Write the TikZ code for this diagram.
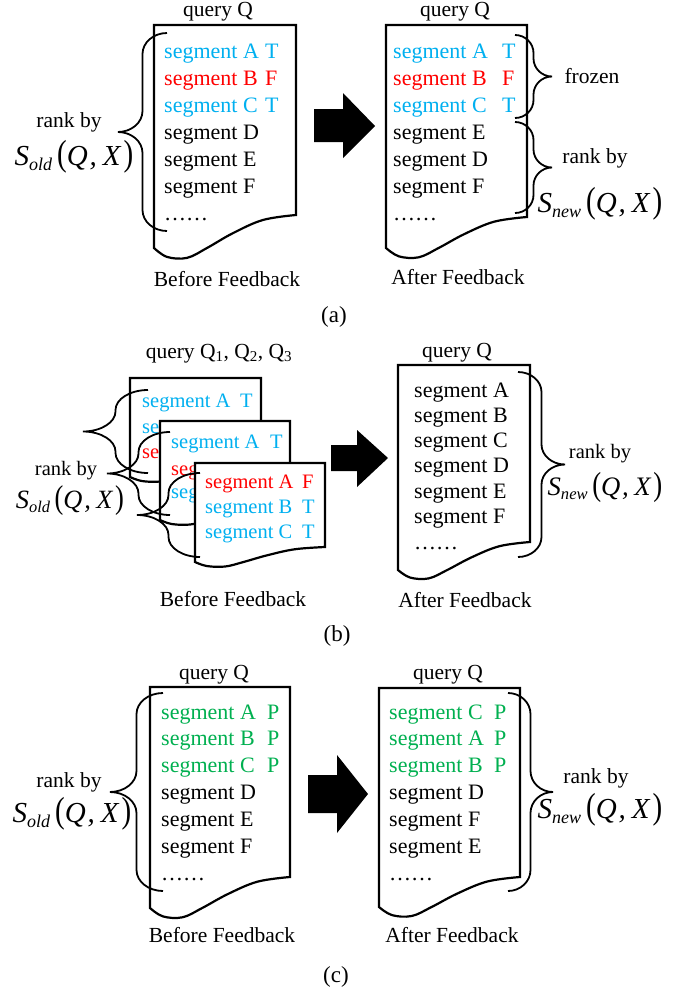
\documentclass[tikz,border=0pt]{standalone}
\usepackage{fontspec}
\setmainfont{Liberation Serif}
\usepackage{graphicx}
\definecolor{segblue}{HTML}{00B0F0}
\definecolor{segred}{HTML}{FF0000}
\definecolor{seggreen}{HTML}{00B050}
\tikzset{
  doc/.style={draw=black, fill=white, line width=2.2pt, line join=miter},
  bracestyle/.style={draw=black, line width=1.8pt},
  seg/.style={anchor=base west, inner sep=0pt, font=\fontsize{22}{24}\selectfont},
  segs/.style={anchor=base west, inner sep=0pt, font=\fontsize{20.5}{24}\selectfont},
  lbl/.style={anchor=base, inner sep=0pt, font=\fontsize{21.5}{24}\selectfont},
  lbls/.style={anchor=base, inner sep=0pt, font=\fontsize{20.5}{24}\selectfont},
  sfn/.style={anchor=base, inner sep=0pt},
  bigarrow/.style={fill=black},
}
% document shape: L T R RB LB
\newcommand{\docshape}[5]{%
  \path[doc] plot[smooth, tension=0.6] coordinates {(#3,#4)
    ({#1+0.768*(#3-#1)},{#4+0.15*(#5-#4)})
    ({#1+0.556*(#3-#1)},{#4+0.55*(#5-#4)})
    ({#1+0.373*(#3-#1)},{#4+1.0*(#5-#4)})
    ({#1+0.232*(#3-#1)},{#4+1.3*(#5-#4)})
    ({#1+0.092*(#3-#1)},{#4+1.27*(#5-#4)})
    (#1,#5)} -- (#1,#2) -- (#3,#2) -- cycle;}
% brace: ends x, tip x, y1, y2, curl
\newcommand{\mybrace}[5]{%
  \draw[bracestyle] (#1,#3)
    .. controls ({#1-0.275*(#1-#2)},#3) and ({(#1+#2)/2},{#3+0.45*#5}) .. ({(#1+#2)/2},{#3+#5})
    -- ({(#1+#2)/2},{(#3+#4)/2-#5})
    .. controls ({(#1+#2)/2},{(#3+#4)/2-0.45*#5}) and ({#2+0.275*(#1-#2)},{(#3+#4)/2}) .. (#2,{(#3+#4)/2})
    .. controls ({#2+0.275*(#1-#2)},{(#3+#4)/2}) and ({(#1+#2)/2},{(#3+#4)/2+0.45*#5}) .. ({(#1+#2)/2},{(#3+#4)/2+#5})
    -- ({(#1+#2)/2},{#4-#5})
    .. controls ({(#1+#2)/2},{#4-0.45*#5}) and ({#1-0.275*(#1-#2)},#4) .. (#1,#4);}
\newcommand{\Sfn}[1]{{\fontsize{29}{29}\selectfont\itshape S\raisebox{-5pt}{\fontsize{18}{18}\selectfont #1}\hspace{5pt}\scalebox{1}[1.25]{\upshape(}Q\hspace{2pt},\hspace{6pt}X\hspace{3pt}\scalebox{1}[1.25]{\upshape)}}}
\begin{document}
\begin{tikzpicture}[x=1pt,y=-1pt]
\useasboundingbox (0,0) rectangle (687,988);
\fill[white] (0,0) rectangle (687,988);

% ================= (a) =================
\docshape{154}{25}{296}{215}{248}
\node[lbl] (aq1) at (218,16) {query Q};
\node[seg, text=segblue] (a1) at (164,58.5) {segment A};
\node[seg, text=segblue] (a1m) at (265,58.5) {T};
\node[seg, text=segred] (a2) at (164,85.5) {segment B};
\node[seg, text=segred] (a2m) at (265,85.5) {F};
\node[seg, text=segblue] (a3) at (164,112.5) {segment C};
\node[seg, text=segblue] (a3m) at (265,112.5) {T};
\node[seg] (a4) at (164,139.5) {segment D};
\node[seg] (a5) at (164,166.5) {segment E};
\node[seg] (a6) at (164,193.5) {segment F};
\node[seg] (a7) at (164,220.5) {……};
\mybrace{167}{118}{33}{231}{21}
\node[lbl] (ark1) at (69,127) {rank by};
\node[sfn] (as1) at (74,165) {\Sfn{old}};
\node[lbl] (abf) at (227,286) {Before Feedback};

\path[bigarrow] (314,109) -- (343,109) -- (343,93) -- (375,126) -- (343,158) -- (343,142) -- (314,142) -- cycle;

\docshape{386}{25}{527}{217}{248}
\node[lbl] (aq2) at (455,16) {query Q};
\node[seg, text=segblue] (b1) at (393,58.5) {segment A};
\node[seg, text=segblue] (b1m) at (502,58.5) {T};
\node[seg, text=segred] (b2) at (393,85.5) {segment B};
\node[seg, text=segred] (b2m) at (502,85.5) {F};
\node[seg, text=segblue] (b3) at (393,112.5) {segment C};
\node[seg, text=segblue] (b3m) at (502,112.5) {T};
\node[seg] (b4) at (393,139.5) {segment E};
\node[seg] (b5) at (393,166.5) {segment D};
\node[seg] (b6) at (393,193.5) {segment F};
\node[seg] (b7) at (393,220.5) {……};
\mybrace{515}{552}{35}{118}{18}
\node[lbl] (afz) at (592,83) {frozen};
\mybrace{515}{552}{122}{213}{18}
\node[lbl] (ark2) at (595,163) {rank by};
\node[sfn] (as2) at (600,212) {\Sfn{new}};
\node[lbl] (aaf) at (458,284) {After Feedback};
\node[anchor=base, inner sep=0pt, font=\fontsize{23}{26}\selectfont] (la) at (334,322) {(a)};

% ================= (b) =================
\node[lbl] (bq1) at (219,358) {query Q\textsubscript{1}, Q\textsubscript{2}, Q\textsubscript{3}};
\docshape{130}{378}{261}{462}{477}
\node[segs, text=segblue] (c1) at (142,407) {segment A};
\node[segs, text=segblue] (c1m) at (240,407) {T};
\node[segs, text=segblue] (c2) at (142,433) {se};
\node[segs, text=segred] (c3) at (142,458) {se};
\docshape{160}{421}{290}{505}{520}
\node[segs, text=segblue] (d1) at (171,448) {segment A};
\node[segs, text=segblue] (d1m) at (270,448) {T};
\node[segs, text=segred] (d2) at (171,475) {seg};
\node[segs, text=segblue] (d3) at (171,498) {seg};
\docshape{195}{463}{325}{547}{562}
\node[segs, text=segred] (e1) at (205,488) {segment A};
\node[segs, text=segred] (e1m) at (302,488) {F};
\node[segs, text=segblue] (e2) at (205,513) {segment B};
\node[segs, text=segblue] (e2m) at (302,513) {T};
\node[segs, text=segblue] (e3) at (205,538) {segment C};
\node[segs, text=segblue] (e3m) at (302,538) {T};
\mybrace{148}{83}{390}{473}{20}
\mybrace{170}{107}{432}{515}{20}
\mybrace{200}{137}{473}{557}{20}
\node[lbls] (brk1) at (66,475) {rank by};
\node[sfn] (bs1) at (70,508) {\scalebox{0.91}{\Sfn{old}}};
\node[lbl] (bbf) at (233,606) {Before Feedback};

\path[bigarrow] (331,445) -- (357,445) -- (357,430) -- (388,458) -- (357,487) -- (357,471) -- (331,471) -- cycle;

\docshape{398}{365}{530}{542}{570}
\node[lbl] (bq2) at (457,357) {query Q};
\node[seg] (f1) at (414,397) {segment A};
\node[seg] (f2) at (414,422.3) {segment B};
\node[seg] (f3) at (414,447.6) {segment C};
\node[seg] (f4) at (414,472.9) {segment D};
\node[seg] (f5) at (414,498.2) {segment E};
\node[seg] (f6) at (414,523.5) {segment F};
\node[seg] (f7) at (414,549) {……};
\mybrace{518}{565}{372}{557}{20}
\node[lbls] (brk2) at (600,458) {rank by};
\node[sfn] (bs2) at (605,495) {\scalebox{0.92}{\Sfn{new}}};
\node[lbl] (baf) at (465,607) {After Feedback};
\node[anchor=base, inner sep=0pt, font=\fontsize{23}{26}\selectfont] (lb) at (337,641) {(b)};

% ================= (c) =================
\docshape{150}{687}{290}{877}{908}
\node[lbl] (cq1) at (214,679) {query Q};
\node[seg, text=seggreen] (g1) at (161,719) {segment A};
\node[seg, text=seggreen] (g1m) at (267,719) {P};
\node[seg, text=seggreen] (g2) at (161,745.8) {segment B};
\node[seg, text=seggreen] (g2m) at (267,745.8) {P};
\node[seg, text=seggreen] (g3) at (161,772.6) {segment C};
\node[seg, text=seggreen] (g3m) at (267,772.6) {P};
\node[seg] (g4) at (161,799.4) {segment D};
\node[seg] (g5) at (161,826.2) {segment E};
\node[seg] (g6) at (161,853) {segment F};
\node[seg] (g7) at (161,880) {……};
\mybrace{163}{110}{693}{891}{21}
\node[lbl] (crk1) at (69,787) {rank by};
\node[sfn] (cs1) at (72,822) {\Sfn{old}};
\node[lbl] (cbf) at (222,942) {Before Feedback};

\path[bigarrow] (308,775) -- (337,775) -- (337,755) -- (368,794) -- (337,833) -- (337,813) -- (308,813) -- cycle;

\docshape{379}{688}{520}{877}{907}
\node[lbl] (cq2) at (448,679) {query Q};
\node[seg, text=seggreen] (h1) at (389,719) {segment C};
\node[seg, text=seggreen] (h1m) at (494,719) {P};
\node[seg, text=seggreen] (h2) at (389,745.8) {segment A};
\node[seg, text=seggreen] (h2m) at (494,745.8) {P};
\node[seg, text=seggreen] (h3) at (389,772.6) {segment B};
\node[seg, text=seggreen] (h3m) at (494,772.6) {P};
\node[seg] (h4) at (389,799.4) {segment D};
\node[seg] (h5) at (389,826.2) {segment F};
\node[seg] (h6) at (389,853) {segment E};
\node[seg] (h7) at (389,880) {……};
\mybrace{508}{553}{693}{891}{21}
\node[lbl] (crk2) at (596,783) {rank by};
\node[sfn] (cs2) at (600,818) {\Sfn{new}};
\node[lbl] (caf) at (452,942) {After Feedback};
\node[anchor=base, inner sep=0pt, font=\fontsize{23}{26}\selectfont] (lc) at (336,982) {(c)};
\end{tikzpicture}
\end{document}
